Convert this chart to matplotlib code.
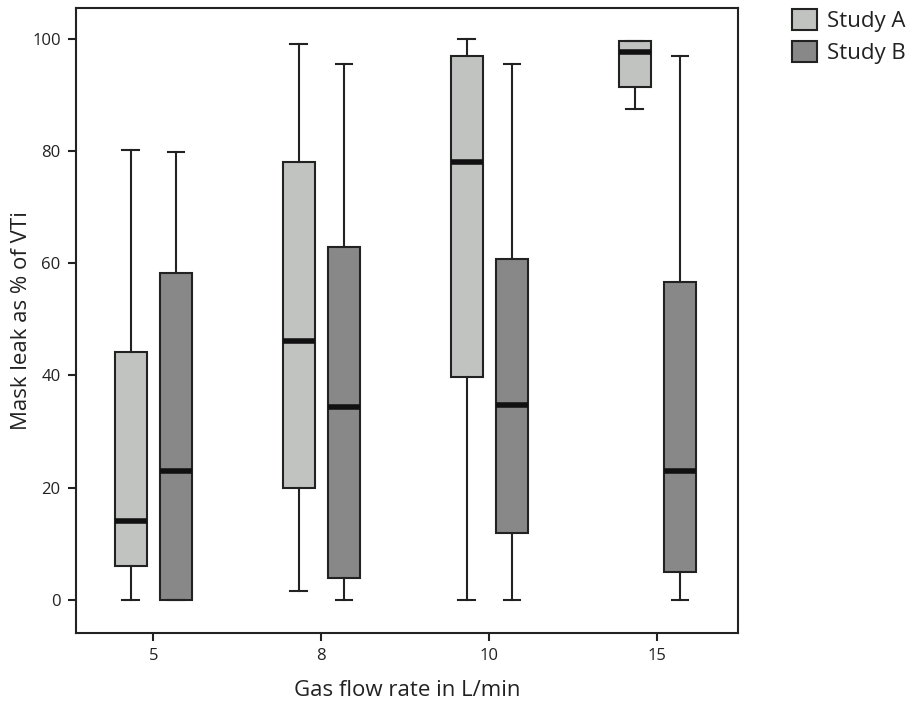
import matplotlib
matplotlib.use("Agg")
import matplotlib.pyplot as plt
from matplotlib.patches import Patch

# ---------------------------------------------------------------------------
# Data
# ---------------------------------------------------------------------------
flow_rates = ["5", "8", "10", "15"]
groups = ["Study A", "Study B"]

# whisker low, Q1, median, Q3, whisker high
study_a_low = [0.0, 1.5, 0.0, 87.5]
study_a_q1 = [6.1, 20.0, 39.8, 91.4]
study_a_med = [14.0, 46.1, 78.1, 97.7]
study_a_q3 = [44.2, 78.1, 96.9, 99.7]
study_a_high = [80.2, 99.1, 99.9, 99.7]

study_b_low = [0.0, 0.0, 0.0, 0.0]
study_b_q1 = [0.0, 3.9, 11.9, 5.0]
study_b_med = [23.0, 34.4, 34.8, 23.0]
study_b_q3 = [58.2, 62.9, 60.8, 56.6]
study_b_high = [79.9, 95.5, 95.5, 97.0]

COLORS = {"Study A": "#c1c3c1", "Study B": "#888888"}
EDGE = "#222222"

plt.rcParams["font.family"] = ["Open Sans", "DejaVu Sans"]


def stats(low, q1, med, q3, high):
    return [{"whislo": a, "q1": b, "med": c, "q3": d, "whishi": e, "fliers": []}
            for a, b, c, d, e in zip(low, q1, med, q3, high)]


series = {
    "Study A": stats(study_a_low, study_a_q1, study_a_med, study_a_q3, study_a_high),
    "Study B": stats(study_b_low, study_b_q1, study_b_med, study_b_q3, study_b_high),
}
offsets = {"Study A": -0.135, "Study B": 0.135}

fig = plt.figure(figsize=(9.19, 7.02), dpi=100)
ax = fig.add_axes([0.0827, 0.0983, 0.7203, 0.8903])

for g in groups:
    pos = [i + offsets[g] for i in range(len(flow_rates))]
    ax.bxp(series[g], positions=pos, widths=0.19, patch_artist=True,
           showfliers=False, manage_ticks=False,
           boxprops=dict(facecolor=COLORS[g], edgecolor=EDGE, linewidth=1.5),
           medianprops=dict(color="#111111", linewidth=4, solid_capstyle="butt"),
           whiskerprops=dict(color=EDGE, linewidth=1.5),
           capprops=dict(color=EDGE, linewidth=1.5),
           capwidths=0.1)

ax.set_xlim(-0.46, 3.48)
ax.set_ylim(-5.9, 105.5)
ax.set_xticks(range(len(flow_rates)))
ax.set_xticklabels(flow_rates)
ax.set_yticks([0, 20, 40, 60, 80, 100])
ax.tick_params(axis="both", direction="out", length=6, width=1.5,
               labelsize=12, color="#222222", labelcolor="#222222", pad=5)
for sp in ax.spines.values():
    sp.set_linewidth(1.5)
    sp.set_color("#222222")

ax.set_xlabel("Gas flow rate in L/min", fontsize=16, color="#222222")
ax.set_ylabel("Mask leak as % of VTi", fontsize=16, color="#222222")
ax.xaxis.set_label_coords(0.5, -0.075)
ax.yaxis.set_label_coords(-0.066, 0.5)

handles = [Patch(facecolor=COLORS[g], edgecolor=EDGE, linewidth=1.5, label=g)
           for g in groups]
fig.legend(handles=handles, loc="upper left", bbox_to_anchor=(0.862, 0.987),
           frameon=False, fontsize=16, handlelength=1.1, handleheight=1.05,
           handletextpad=0.45, labelspacing=0.42, borderpad=0, borderaxespad=0,
           labelcolor="#222222")

fig.savefig("out.png", dpi=100, facecolor="white")
